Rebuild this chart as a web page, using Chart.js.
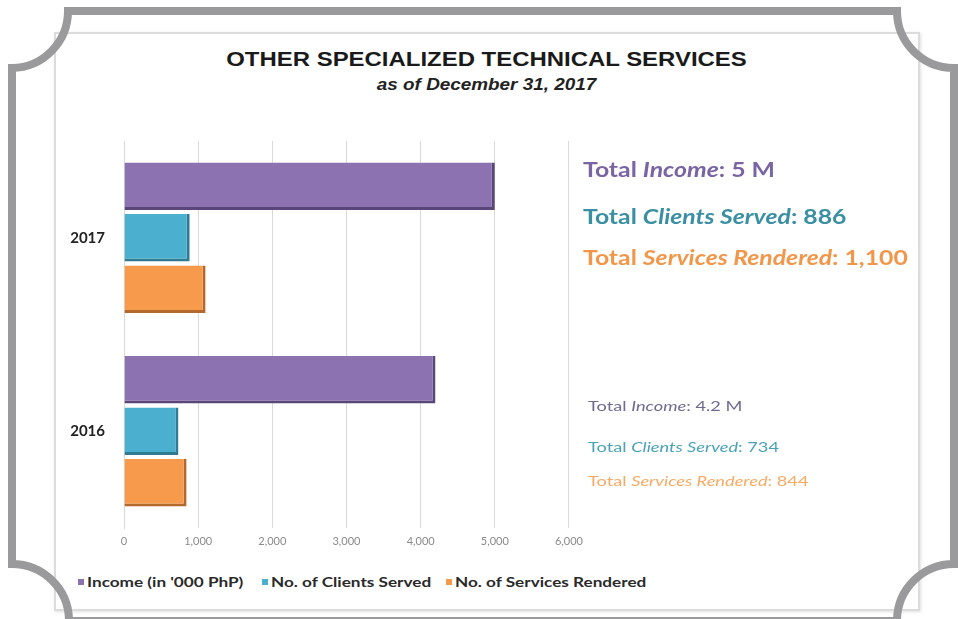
<!DOCTYPE html>
<html>
<head>
<meta charset="utf-8">
<script src="https://cdn.jsdelivr.net/npm/chart.js@4/dist/chart.umd.min.js"></script>
<style>
  body { margin: 0; width: 958px; height: 619px; background: #fff; position: relative; overflow: hidden; font-family: Lato, "Open Sans", sans-serif; }
  #frame { position: absolute; left: 0; top: 0; }
  #panel { position: absolute; left: 54px; top: 32px; width: 862px; height: 575px; border: 2px solid #dcdcdc; box-shadow: 1px 1px 3px rgba(0,0,0,0.12); background: #fff; }
  #title { position: absolute; left: 55px; width: 863px; top: 47px; text-align: center; font: bold 21px "Liberation Sans", Arial, sans-serif; color: #1a1a1a; transform: scaleX(1.14); }
  #subtitle { position: absolute; left: 55px; width: 863px; top: 76px; text-align: center; font: italic bold 16px "Liberation Sans", Arial, sans-serif; color: #222; transform: scaleX(1.18); }
  #wrap { position: absolute; left: 55px; top: 113px; }
  .note { position: absolute; white-space: nowrap; transform-origin: left center; }
  .big { font-weight: bold; font-size: 21px; transform: translateY(-50%) scaleX(1.18); }
  .small { font-size: 14px; transform: translateY(-50%) scaleX(1.3); }
  .item { position: absolute; top: 574px; display: flex; align-items: center; white-space: nowrap; font: bold 13px Lato, sans-serif; color: #2a2a2a; }
  .item .box { width: 6px; height: 6px; margin-right: 3px; display: inline-block; }
  .item .txt { display: inline-block; transform: scaleX(1.32); transform-origin: left center; }
</style>
</head>
<body>
<div id="panel"></div>
<svg id="frame" width="958" height="619">
  <path d="M 68 11 L 897 11 A 57 57 0 0 0 954 68 L 954 564 A 57 57 0 0 0 897 621 L 69 621 A 57 57 0 0 0 12 564 L 12 68 A 57 57 0 0 0 68 11 Z"
        fill="none" stroke="#9a9a9c" stroke-width="8"/>
</svg>
<div id="title">OTHER SPECIALIZED TECHNICAL SERVICES</div>
<div id="subtitle">as of December 31, 2017</div>
<div id="wrap"><canvas id="chart" width="535" height="443"></canvas></div>
<div id="notes"></div>
<div id="legend"></div>

<script>
const years = ['2017', '2016'];
const income = [5000, 4200];      // in '000 PhP
const clients = [886, 734];
const services = [1100, 844];
const seriesNames = ["Income (in '000 PhP)", 'No. of Clients Served', 'No. of Services Rendered'];
const xTicks = [0, 1000, 2000, 3000, 4000, 5000, 6000];

const fills = ['#8d72b2', '#4bafcf', '#f89a4c'];
const edges = ['#5a4678', '#2e7b92', '#b4692c'];

function barSet(i, values) {
    return {
        label: seriesNames[i],
        data: values,
        backgroundColor: fills[i],
        borderColor: edges[i],
        borderWidth: { top: 0, left: 0, right: 3, bottom: 3 },
        borderSkipped: false,
        categoryPercentage: 0.8,
        barPercentage: 0.92
    };
}

new Chart(document.getElementById('chart'), {
    type: 'bar',
    data: {
        labels: years,
        datasets: [barSet(0, income), barSet(1, clients), barSet(2, services)]
    },
    options: {
        indexAxis: 'y',
        responsive: false,
        animation: false,
        layout: { padding: { top: 12, right: 17, left: 0, bottom: 0 } },
        scales: {
            x: {
                min: xTicks[0],
                max: xTicks[xTicks.length - 1],
                afterBuildTicks: scale => { scale.ticks = xTicks.map(v => ({ value: v })); },
                afterFit: scale => { scale.height = 22; },
                grid: { color: '#d9d9d9', drawTicks: false },
                border: { display: false },
                ticks: {
                    padding: 7,
                    color: '#8a8a8a',
                    font: { family: 'Lato', size: 11 },
                    callback: v => v.toLocaleString('en-US')
                }
            },
            y: {
                afterFit: scale => { scale.width = 69; },
                grid: { display: false, drawTicks: false },
                border: { color: '#d9d9d9' },
                ticks: {
                    padding: 19,
                    color: '#222',
                    font: { family: 'Lato', size: 15, weight: 'bold' }
                }
            }
        },
        plugins: {
            legend: { display: false },
            title: { display: false },
            tooltip: { enabled: false }
        }
    }
});

// totals written beside each year's bars
const noteColors = {
    big: ['#7a64a3', '#3a8fa3', '#f2964a'],
    small: ['#6f6a90', '#4aa2b8', '#f6aa64']
};
const notePlaces = [
    { cls: 'big', left: 583, tops: [168, 215, 256] },
    { cls: 'small', left: 588, tops: [405, 446, 480] }
];
const notes = document.getElementById('notes');
years.forEach((yr, k) => {
    const place = notePlaces[k];
    const texts = [
        'Total <i>Income</i>: ' + (income[k] / 1000) + ' M',
        'Total <i>Clients Served</i>: ' + clients[k].toLocaleString('en-US'),
        'Total <i>Services Rendered</i>: ' + services[k].toLocaleString('en-US')
    ];
    texts.forEach((t, j) => {
        const d = document.createElement('div');
        d.className = 'note ' + place.cls;
        d.style.left = place.left + 'px';
        d.style.top = place.tops[j] + 'px';
        d.style.color = noteColors[place.cls][j];
        d.innerHTML = t;
        notes.appendChild(d);
    });
});

// legend entries, one per series
const legendLefts = [78, 262, 446];
const legend = document.getElementById('legend');
seriesNames.forEach((name, i) => {
    const item = document.createElement('span');
    item.className = 'item';
    item.style.left = legendLefts[i] + 'px';
    item.innerHTML = '<span class="box" style="background:' + fills[i] + '"></span><span class="txt">' + name + '</span>';
    legend.appendChild(item);
});
</script>
</body>
</html>
